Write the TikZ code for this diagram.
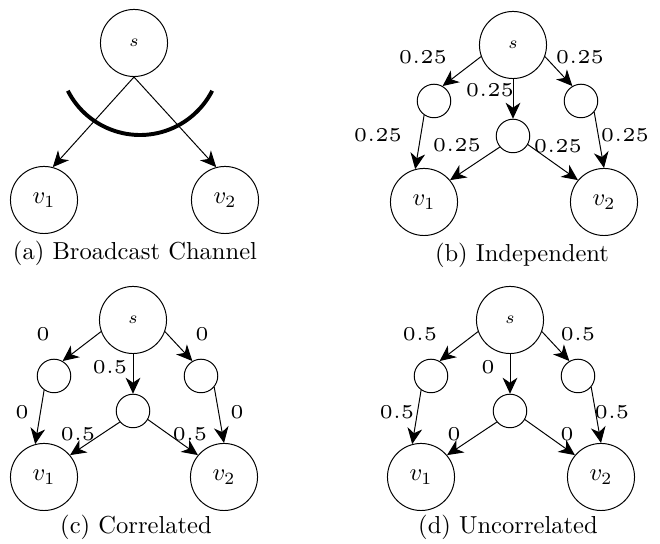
\documentclass[tikz,border=0pt]{standalone}
\usetikzlibrary{arrows.meta}

\begin{document}
\begin{tikzpicture}[
    x=0.01432cm, y=0.01432cm,
    bignode/.style={draw, circle, minimum size=0.96cm, inner sep=1pt},
    hopnode/.style={draw, circle, minimum size=0.48cm, inner sep=0pt},
    flow/.style={-{Stealth[length=6.5pt, width=6pt, inset=2pt]}},
    problabel/.style={font=\tiny, scale=1.6},
    caplabel/.style={font=\normalsize}
]
    \useasboundingbox (0,0) rectangle (660,544);

    % (a) Broadcast channel
    \node[bignode] (sa) at (134,501) {$\scriptstyle s$};
    \node[bignode] (v1a) at (44,344) {$v_1$};
    \node[bignode] (v2a) at (225,344) {$v_2$};
    \draw[flow] (sa.south) -- (v1a.75);
    \draw[flow] (sa.south) -- (v2a.105);
    \draw[line width=1.6pt] ([shift={(207:81)}]140,490) arc (207:333:81);
    \node[caplabel] (capa) at (135,291) {(a) Broadcast Channel};

    % (b)-(d): three relay nodes between s and the receivers
    \foreach \p/\sx/\sy/\cx/\cy/\cap in {b/513/499/522/289/{(b) Independent},
        c/133/224/136/17/{(c) Correlated}, d/510/224/508/17/{(d) Uncorrelated}} {
        \begin{scope}[shift={(\sx,\sy)}]
            \node[bignode] (s\p) at (0,0) {$\scriptstyle s$};
            \node[hopnode] (l\p) at (-79,-56) {};
            \node[hopnode] (m\p) at (0,-91) {};
            \node[hopnode] (r\p) at (68,-56) {};
            \node[bignode] (v1\p) at (-89,-157) {$v_1$};
            \node[bignode] (v2\p) at (91,-157) {$v_2$};
        \end{scope}
        \draw[flow] (s\p.200) -- (l\p.60);
        \draw[flow] (s\p.south) -- (m\p.north);
        \draw[flow] (s\p.-20) -- (r\p.120);
        \draw[flow] (l\p.235) -- (v1\p.105);
        \draw[flow] (m\p.220) -- (v1\p.40);
        \draw[flow] (m\p.-30) -- (v2\p.140);
        \draw[flow] (r\p.-40) -- (v2\p.north);
        \node[caplabel] (cap\p) at (\cx,\cy) {\cap};
    }

    % (b) Independent
    \node[problabel] (pb1) at (423,487) {0.25};
    \node[problabel] (pb2) at (580,487) {0.25};
    \node[problabel] (pb3) at (490,454) {0.25};
    \node[problabel] (pb4) at (378,409) {0.25};
    \node[problabel] (pb5) at (457,399) {0.25};
    \node[problabel] (pb6) at (558,398) {0.25};
    \node[problabel] (pb7) at (625,409) {0.25};

    % (c) Correlated
    \node[problabel] (pc1) at (43,210) {0};
    \node[problabel] (pc2) at (202,210) {0};
    \node[problabel] (pc3) at (110,177) {0.5};
    \node[problabel] (pc4) at (22,132) {0};
    \node[problabel] (pc5) at (78,110) {0.5};
    \node[problabel] (pc6) at (190,110) {0.5};
    \node[problabel] (pc7) at (237,132) {0};

    % (d) Uncorrelated
    \node[problabel] (pd1) at (420,210) {0.5};
    \node[problabel] (pd2) at (578,210) {0.5};
    \node[problabel] (pd3) at (488,177) {0};
    \node[problabel] (pd4) at (397,132) {0.5};
    \node[problabel] (pd5) at (454,110) {0};
    \node[problabel] (pd6) at (567,110) {0};
    \node[problabel] (pd7) at (612,132) {0.5};

\end{tikzpicture}
\end{document}
